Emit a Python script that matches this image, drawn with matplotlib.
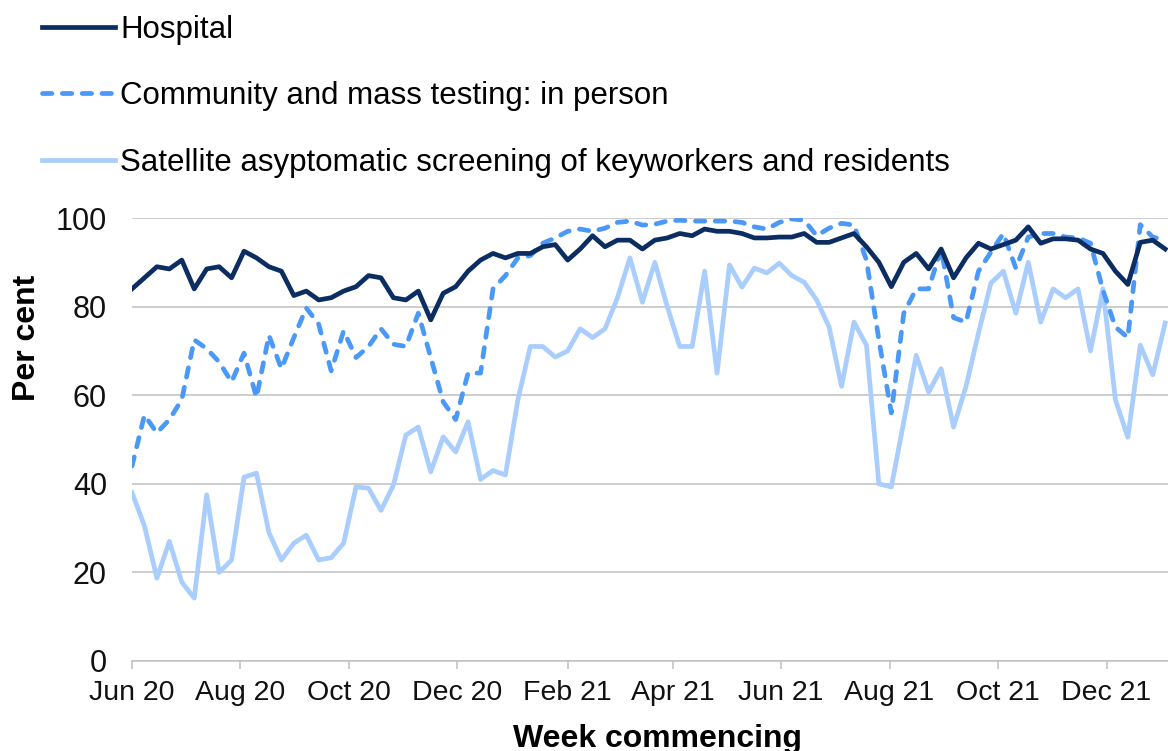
import numpy as np
import pandas as pd
import matplotlib
matplotlib.use("Agg")
import matplotlib.pyplot as plt
import matplotlib.dates as mdates

plt.rcParams['font.family'] = ['Liberation Sans', 'DejaVu Sans']

# Weekly series, week commencing 1 Jun 2020
weeks = pd.date_range('2020-06-01', periods=84, freq='7D')

hospital = [84, 86.5, 89, 88.5, 90.5, 84, 88.5, 89, 86.5, 92.5,
            91, 89, 88, 82.5, 83.5, 81.5, 82, 83.5, 84.5, 87,
            86.5, 82, 81.5, 83.5, 77, 83, 84.5, 88, 90.5, 92,
            91, 92, 92, 93.5, 94, 90.5, 93, 96, 93.5, 95,
            95, 93, 95, 95.5, 96.5, 96, 97.5, 97, 97, 96.5,
            95.5, 95.5, 95.7, 95.7, 96.5, 94.5, 94.5, 95.5, 96.5, 93.5,
            90, 84.5, 90, 92, 88.5, 93, 86.5, 91, 94.3, 93,
            94, 95, 98, 94.3, 95.3, 95.3, 95, 93, 92, 88,
            85, 94.5, 95, 93]

community = [44, 55.5, 51.5, 54.5, 59, 72.5, 70.5, 67.5, 63, 69.5,
             59.5, 73.5, 66, 73, 79.7, 76, 65.5, 74.5, 68.5, 71,
             75, 71.5, 71, 78.5, 68.5, 58.5, 54.5, 65, 65, 84,
             87, 91, 91.5, 94.3, 95.5, 97, 97.5, 97, 97.7, 99,
             99.3, 98.4, 98.6, 99.3, 99.5, 99.3, 99.3, 99.3, 99.3, 99,
             98, 97.5, 99, 99.8, 99.5, 96, 97.7, 98.8, 98.4, 90.5,
             72.5, 56, 78.5, 84, 84, 93, 77.5, 76.5, 88, 92.3,
             96.5, 88.7, 95.7, 96.5, 96.5, 95.7, 95.5, 94.3, 83.7, 75.4,
             73, 98.5, 95.7, 95]

satellite = [38, 30.5, 18.7, 27, 17.8, 14.2, 37.5, 20, 22.8, 41.5,
             42.4, 29, 22.8, 26.6, 28.4, 22.8, 23.3, 26.6, 39.3, 39,
             34, 39.7, 51, 52.8, 42.7, 50.6, 47.2, 54, 41, 43,
             42, 59, 71, 71, 68.6, 70, 75, 73, 75, 82,
             91, 81, 90, 80, 71, 71, 88, 65, 89.4, 84.4,
             88.7, 87.6, 89.8, 87, 85.5, 81.5, 75.4, 62, 76.5, 71.3,
             40, 39.3, 54, 69, 60.7, 66, 52.8, 62, 74, 85.3,
             88, 78.5, 90, 76.5, 84, 82, 84, 70, 84, 59,
             50.5, 71.3, 64.6, 76.3]

labels = ['Hospital',
          'Community and mass testing: in person',
          'Satellite asyptomatic screening of keyworkers and residents']

fig = plt.figure(figsize=(11.68, 7.51), dpi=100)
ax = fig.add_axes([132 / 1168, 90 / 751, 1036 / 1168, 443 / 751])

ax.plot(weeks, hospital, color='#0B2D62', lw=3.4, label=labels[0],
        solid_joinstyle='round', zorder=3)
ax.plot(weeks, community, color='#4A98F7', lw=3.4, label=labels[1],
        ls=(0, (2.0, 2.2)), dash_capstyle='round', zorder=2)
ax.plot(weeks, satellite, color='#A9CDFD', lw=3.4, label=labels[2],
        solid_joinstyle='round', zorder=1)

ax.set_ylim(0, 100)
ax.set_yticks(np.arange(0, 101, 20))
ax.set_xlim(pd.Timestamp('2020-06-01'), pd.Timestamp('2022-01-04 14:00'))
ax.xaxis.set_major_locator(mdates.MonthLocator(bymonth=[2, 4, 6, 8, 10, 12]))
ax.xaxis.set_major_formatter(mdates.DateFormatter('%b %y'))

ax.grid(axis='y', color='#C0C0C0', lw=1.1)
ax.set_axisbelow(True)
for s in ['left', 'top', 'right']:
    ax.spines[s].set_visible(False)
ax.spines['bottom'].set_color('#C0C0C0')
ax.spines['bottom'].set_linewidth(1.1)

ax.tick_params(axis='x', length=6, width=1.1, color='#C0C0C0', pad=7.5,
               labelsize=20.5, labelcolor='#111111')
ax.tick_params(axis='y', length=0, pad=18, labelsize=22, labelcolor='#111111')

ax.set_ylabel('Per cent', fontsize=23, fontweight='bold', va='center')
ax.yaxis.set_label_coords(-0.101, 0.729)
ax.set_xlabel('Week commencing', fontsize=23, fontweight='bold')
ax.xaxis.set_label_coords(0.507, -0.176)
ax.xaxis.label.set_va('center')

fig.legend(loc='upper left', bbox_to_anchor=(42 / 1168, 1 - 15 / 751),
           frameon=False, fontsize=22.5, handlelength=2.35,
           handletextpad=0.15, labelspacing=1.16, borderpad=0,
           borderaxespad=0)

fig.savefig('out.png', dpi=100)
